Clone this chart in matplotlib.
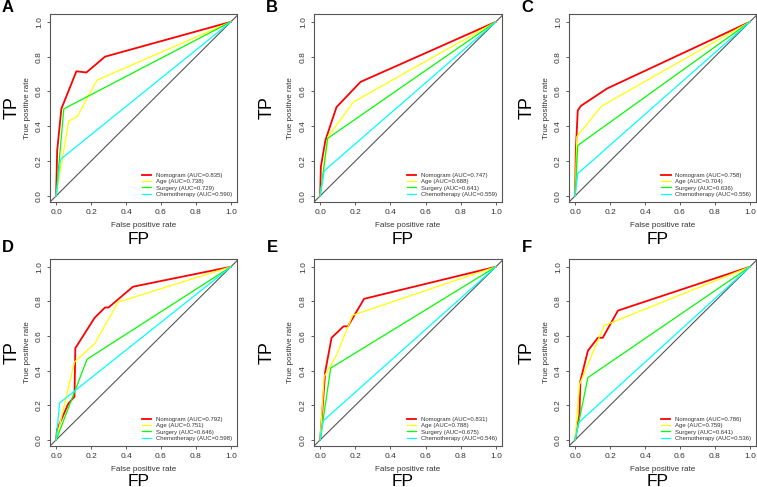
import matplotlib
matplotlib.use("Agg")
import matplotlib.pyplot as plt

plt.rcParams["font.family"] = ["Liberation Sans", "DejaVu Sans"]

# ROC curve points (false positive rate, true positive rate)
# Panel A
A_nomo_fpr = [0, 0.006, 0.03, 0.116, 0.173, 0.28, 1]
A_nomo_tpr = [0, 0.26, 0.50, 0.716, 0.709, 0.80, 1]
A_age_fpr = [0, 0.072, 0.12, 0.234, 1]
A_age_tpr = [0, 0.43, 0.455, 0.665, 1]
A_surg_fpr = [0, 0.044, 1]
A_surg_tpr = [0, 0.50, 1]
A_chemo_fpr = [0, 0.025, 1]
A_chemo_tpr = [0, 0.21, 1]
A_auc = [0.835, 0.738, 0.729, 0.590]

# Panel B
B_nomo_fpr = [0, 0.004, 0.03, 0.093, 0.23, 1]
B_nomo_tpr = [0, 0.167, 0.32, 0.51, 0.655, 1]
B_age_fpr = [0, 0.045, 0.19, 1]
B_age_tpr = [0, 0.34, 0.54, 1]
B_surg_fpr = [0, 0.042, 1]
B_surg_tpr = [0, 0.33, 1]
B_chemo_fpr = [0, 0.023, 1]
B_chemo_tpr = [0, 0.144, 1]
B_auc = [0.747, 0.688, 0.641, 0.559]

# Panel C
C_nomo_fpr = [0, 0.004, 0.015, 0.033, 0.183, 1]
C_nomo_tpr = [0, 0.26, 0.49, 0.517, 0.617, 1]
C_age_fpr = [0, 0.01, 0.15, 1]
C_age_tpr = [0, 0.34, 0.515, 1]
C_surg_fpr = [0, 0.015, 1]
C_surg_tpr = [0, 0.29, 1]
C_chemo_fpr = [0, 0.015, 1]
C_chemo_tpr = [0, 0.128, 1]
C_auc = [0.758, 0.704, 0.636, 0.556]

# Panel D
D_nomo_fpr = [0, 0.005, 0.07, 0.105, 0.11, 0.22, 0.28, 0.30, 0.44, 1]
D_nomo_tpr = [0, 0.06, 0.21, 0.25, 0.53, 0.705, 0.765, 0.765, 0.885, 1]
D_age_fpr = [0, 0.105, 0.22, 0.355, 1]
D_age_tpr = [0, 0.45, 0.555, 0.796, 1]
D_surg_fpr = [0, 0.177, 1]
D_surg_tpr = [0, 0.466, 1]
D_chemo_fpr = [0, 0.02, 1]
D_chemo_tpr = [0, 0.214, 1]
D_auc = [0.792, 0.751, 0.646, 0.598]

# Panel E
E_nomo_fpr = [0, 0.029, 0.065, 0.133, 0.158, 0.25, 1]
E_nomo_tpr = [0, 0.395, 0.59, 0.656, 0.656, 0.815, 1]
E_age_fpr = [0, 0.023, 0.065, 0.093, 0.185, 1]
E_age_tpr = [0, 0.366, 0.44, 0.49, 0.72, 1]
E_surg_fpr = [0, 0.06, 1]
E_surg_tpr = [0, 0.415, 1]
E_chemo_fpr = [0, 0.017, 1]
E_chemo_tpr = [0, 0.11, 1]
E_auc = [0.831, 0.788, 0.675, 0.546]

# Panel F
F_nomo_fpr = [0, 0.025, 0.03, 0.073, 0.13, 0.158, 0.245, 1]
F_nomo_tpr = [0, 0.148, 0.34, 0.515, 0.59, 0.59, 0.747, 1]
F_age_fpr = [0, 0.025, 0.166, 1]
F_age_tpr = [0, 0.32, 0.66, 1]
F_surg_fpr = [0, 0.073, 1]
F_surg_tpr = [0, 0.36, 1]
F_chemo_fpr = [0, 0.02, 1]
F_chemo_tpr = [0, 0.10, 1]
F_auc = [0.786, 0.759, 0.641, 0.536]

names = ["Nomogram", "Age", "Surgery", "Chemotherapy"]
colors = ["#FF0000", "#FFFF00", "#00FF00", "#00FFFF"]
widths = [1.3, 0.9, 0.9, 0.9]

panels = [
    ("A", [(A_nomo_fpr, A_nomo_tpr), (A_age_fpr, A_age_tpr), (A_surg_fpr, A_surg_tpr), (A_chemo_fpr, A_chemo_tpr)], A_auc),
    ("B", [(B_nomo_fpr, B_nomo_tpr), (B_age_fpr, B_age_tpr), (B_surg_fpr, B_surg_tpr), (B_chemo_fpr, B_chemo_tpr)], B_auc),
    ("C", [(C_nomo_fpr, C_nomo_tpr), (C_age_fpr, C_age_tpr), (C_surg_fpr, C_surg_tpr), (C_chemo_fpr, C_chemo_tpr)], C_auc),
    ("D", [(D_nomo_fpr, D_nomo_tpr), (D_age_fpr, D_age_tpr), (D_surg_fpr, D_surg_tpr), (D_chemo_fpr, D_chemo_tpr)], D_auc),
    ("E", [(E_nomo_fpr, E_nomo_tpr), (E_age_fpr, E_age_tpr), (E_surg_fpr, E_surg_tpr), (E_chemo_fpr, E_chemo_tpr)], E_auc),
    ("F", [(F_nomo_fpr, F_nomo_tpr), (F_age_fpr, F_age_tpr), (F_surg_fpr, F_surg_tpr), (F_chemo_fpr, F_chemo_tpr)], F_auc),
]

W, H = 757, 487
fig = plt.figure(figsize=(W / 100, H / 100), dpi=100)

# pixel boxes of each panel (left, right, top, bottom)
lefts = [50, 314, 569]
rights = [237, 502, 756]
tops = [14, 259]
bottoms = [202, 446]
tp_x = [12, 267, 527]
letter_x = [8, 272, 527]
letter_y = [8, 248]
fp_y = [239, 481]

for i, (letter, curves, aucs) in enumerate(panels):
    r, c = divmod(i, 3)
    l, rt, t, b = lefts[c], rights[c], tops[r], bottoms[r]
    ax = fig.add_axes([l / W, 1 - b / H, (rt - l) / W, (b - t) / H])
    ax.axline((0, 0), (1, 1), color="#555555", lw=0.8, zorder=1)
    for (fpr, tpr), name, col, lw, auc in zip(curves, names, colors, widths, aucs):
        ax.plot(fpr, tpr, color=col, lw=lw, label=f"{name} (AUC={auc:.3f})", zorder=3)
    ax.set_xlim(-0.035, 1.035)
    ax.set_ylim(-0.035, 1.045)
    ticks = [0, 0.2, 0.4, 0.6, 0.8, 1.0]
    ax.set_xticks(ticks)
    ax.set_yticks(ticks)
    ax.set_xticklabels([f"{v:.1f}" for v in ticks])
    ax.set_yticklabels([f"{v:.1f}" for v in ticks], rotation=90, va="center")
    ax.tick_params(labelsize=6, length=2.5, width=0.6, color="#444444", pad=2.5, labelcolor="#333333")
    for s in ax.spines.values():
        s.set_color("#555555")
        s.set_linewidth(0.8)
    ax.set_xlabel("False positive rate", fontsize=5.8, color="#333333", labelpad=4.5)
    ax.set_ylabel("True positive rate", fontsize=5.8, color="#333333", labelpad=4)
    leg = ax.legend(loc="lower right", bbox_to_anchor=(1.0, 0.0), fontsize=4.3, frameon=False,
                    handlelength=1.6, handletextpad=0.7, labelspacing=0.15, borderaxespad=0.5)
    for txt in leg.get_texts():
        txt.set_color("#333333")
    fig.text(tp_x[c] / W, 1 - ((t + b) / 2) / H, "TP", fontsize=13, rotation=90, ha="center", va="center")
    fig.text(((l + rt) / 2 - 5) / W, 1 - fp_y[r] / H, "FP", fontsize=12.5, ha="center", va="center")
    fig.text(letter_x[c] / W, 1 - letter_y[r] / H, letter, fontsize=12, fontweight="bold", ha="center", va="center")

fig.savefig("out.png", dpi=100)
